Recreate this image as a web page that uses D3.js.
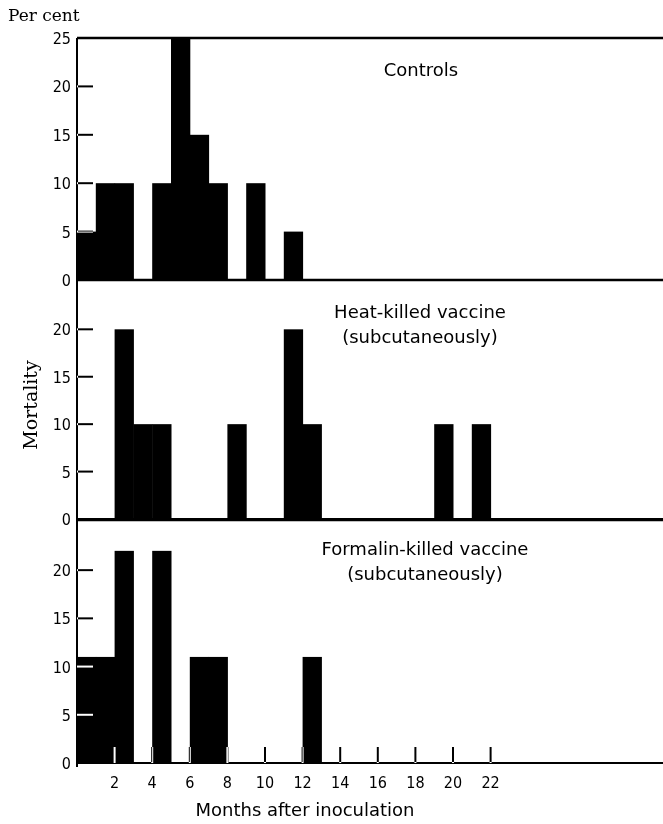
<!DOCTYPE html>
<html>
<head>
<meta charset="utf-8">
<script src="https://cdn.jsdelivr.net/npm/d3@7"></script>
<style>
body { margin: 0; background: #fff; }
svg { display: block; }
text { fill: #000; }
</style>
</head>
<body>
<svg></svg>
<script>
// Chart size
const width = 663;
const height = 824;

// Month bins (start of each one-month interval)
const months = [0,1,2,3,4,5,6,7,8,9,10,11,12,13,14,15,16,17,18,19,20,21,22];

// Mortality in per cent for each month bin
const controls = [5,10,10,0,10,25,15,10,0,10,0,5,0,0,0,0,0,0,0,0,0,0,0];
const heatKilled = [0,0,20,10,10,0,0,0,10,0,0,20,10,0,0,0,0,0,0,10,0,10,0];
const formalinKilled = [11,11,22,0,22,0,11,11,0,0,0,0,11,0,0,0,0,0,0,0,0,0,0];

// Tick labels
const xTicks = [2,4,6,8,10,12,14,16,18,20,22];
const yTicksTop = [0,5,10,15,20,25];
const yTicks = [0,5,10,15,20];

const panelTitles = [["Controls"], ["Heat-killed vaccine", "(subcutaneously)"], ["Formalin-killed vaccine", "(subcutaneously)"]];

const svg = d3.select("svg")
.attr("width", width)
.attr("height", height);

svg.append("rect").attr("width", width).attr("height", height).attr("fill", "#fff");

// Shared x scale (months)
const x = d3.scaleLinear().domain([0, 24]).range([77, 77 + 24 * 18.8]);

// One y scale for each panel
const panels = [
{ values: controls, y: d3.scaleLinear().domain([0, 25]).range([280, 38]), ticks: yTicksTop, title: panelTitles[0], tx: 421, ty: 76 },
{ values: heatKilled, y: d3.scaleLinear().domain([0, 25.2]).range([519, 280]), ticks: yTicks, title: panelTitles[1], tx: 420, ty: 318 },
{ values: formalinKilled, y: d3.scaleLinear().domain([0, 25.2]).range([763, 520]), ticks: yTicks, title: panelTitles[2], tx: 425, ty: 555 }
];

panels.forEach((p, i) => {
const g = svg.append("g");

// Bars
g.selectAll("rect")
.data(months.filter((m, j) => p.values[j] > 0))
.enter()
.append("rect")
.attr("x", d => x(d))
.attr("width", d => x(d + 1) - x(d) + 0.5)
.attr("y", d => p.y(p.values[months.indexOf(d)]))
.attr("height", d => p.y(0) - p.y(p.values[months.indexOf(d)]))
.attr("fill", "#000");

// Top frame line
g.append("line")
.attr("x1", x(0)).attr("x2", width)
.attr("y1", p.y.range()[1]).attr("y2", p.y.range()[1])
.attr("stroke", "#000").attr("stroke-width", 2.5);

// Baseline
g.append("line")
.attr("x1", x(0)).attr("x2", width)
.attr("y1", p.y(0)).attr("y2", p.y(0))
.attr("stroke", "#000").attr("stroke-width", 2.2);

// Left axis line
g.append("line")
.attr("x1", x(0)).attr("x2", x(0))
.attr("y1", p.y.range()[1]).attr("y2", p.y(0) + 4)
.attr("stroke", "#000").attr("stroke-width", 2);

// Inward y ticks (invert over bars)
g.selectAll(".ytick")
.data([5,10,15,20])
.enter()
.append("line")
.attr("x1", x(0)).attr("x2", x(0) + 16)
.attr("y1", d => p.y(d)).attr("y2", d => p.y(d))
.attr("stroke", "#fff").attr("stroke-width", 2)
.style("mix-blend-mode", "difference");

// Y tick labels
g.selectAll(".ylab")
.data(p.ticks)
.enter()
.append("text")
.attr("x", 71)
.attr("y", d => p.y(d) + 6)
.attr("text-anchor", "end")
.attr("font-family", "DejaVu Sans Condensed, DejaVu Sans")
.attr("font-size", 16)
.text(d => d);

// Panel title
g.selectAll(".title")
.data(p.title)
.enter()
.append("text")
.attr("x", p.tx)
.attr("y", (d, k) => p.ty + k * 25)
.attr("text-anchor", "middle")
.attr("font-family", "DejaVu Sans")
.attr("font-size", 18)
.text(d => d);
});

// X ticks and labels on the bottom panel
const bottom = panels[2];
svg.selectAll(".xtick")
.data(xTicks)
.enter()
.append("line")
.attr("x1", d => x(d)).attr("x2", d => x(d))
.attr("y1", bottom.y(0)).attr("y2", bottom.y(0) - 16)
.attr("stroke", "#fff").attr("stroke-width", 2)
.style("mix-blend-mode", "difference");

svg.selectAll(".xlab")
.data(xTicks)
.enter()
.append("text")
.attr("x", d => x(d))
.attr("y", 788)
.attr("text-anchor", "middle")
.attr("font-family", "DejaVu Sans Condensed, DejaVu Sans")
.attr("font-size", 16)
.text(d => d);

// Axis titles
svg.append("text")
.attr("x", 305).attr("y", 816)
.attr("text-anchor", "middle")
.attr("font-family", "DejaVu Sans")
.attr("font-size", 18)
.text("Months after inoculation");

svg.append("text")
.attr("x", 8).attr("y", 21)
.attr("font-family", "DejaVu Serif")
.attr("font-size", 17)
.text("Per cent");

svg.append("text")
.attr("transform", "translate(37,405) rotate(-90)")
.attr("text-anchor", "middle")
.attr("font-family", "DejaVu Serif")
.attr("font-size", 19)
.text("Mortality");
</script>
</body>
</html>
